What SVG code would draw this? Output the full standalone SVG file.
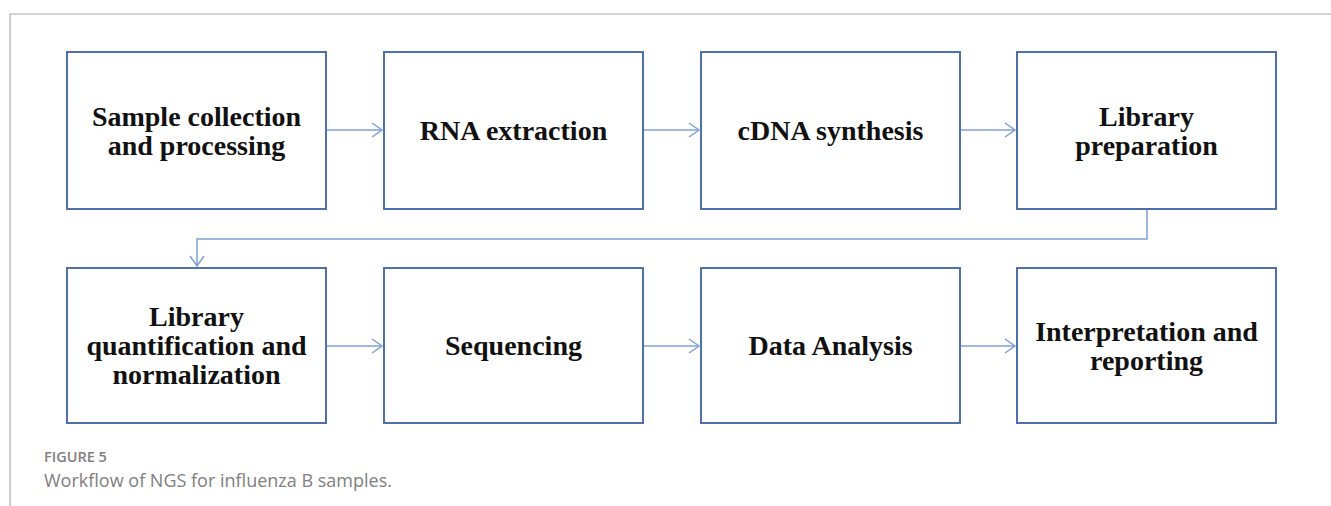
<svg xmlns="http://www.w3.org/2000/svg" width="1331" height="506" viewBox="0 0 1331 506">
<style>
.box{fill:#fff;stroke:#4f70a8;stroke-width:2}
.lbl{font-family:"Liberation Serif",serif;font-weight:bold;font-size:28px;fill:#111;text-anchor:middle}
.con{fill:none;stroke:#7fa0d6;stroke-width:1.5}
.cap1{font-family:"Open Sans",sans-serif;font-weight:600;font-size:14.5px;fill:#808080}
.cap2{font-family:"Open Sans",sans-serif;font-size:18px;fill:#808080}
</style>
<defs>
<marker id="ah" markerWidth="14" markerHeight="16" refX="12" refY="8" orient="auto" markerUnits="userSpaceOnUse">
<path d="M2,1 L12,8 L2,15" fill="none" stroke="#7fa0d6" stroke-width="1.5"/>
</marker>
</defs>
<rect width="1331" height="506" fill="#fff"/>
<path d="M10,506 V14 H1331" fill="none" stroke="#aaa" stroke-width="1.2"/>
<g id="n1"><rect class="box" x="67" y="52" width="259" height="157"/><text class="lbl" x="196.5" y="126">Sample collection</text><text class="lbl" x="196.5" y="155">and processing</text></g>
<g id="n2"><rect class="box" x="384" y="52" width="259" height="157"/><text class="lbl" x="513.5" y="140">RNA extraction</text></g>
<g id="n3"><rect class="box" x="701" y="52" width="259" height="157"/><text class="lbl" x="830.5" y="140">cDNA synthesis</text></g>
<g id="n4"><rect class="box" x="1017" y="52" width="259" height="157"/><text class="lbl" x="1146.5" y="126">Library</text><text class="lbl" x="1146.5" y="155">preparation</text></g>
<g id="n5"><rect class="box" x="67" y="268" width="259" height="155"/><text class="lbl" x="196.5" y="326">Library</text><text class="lbl" x="196.5" y="355">quantification and</text><text class="lbl" x="196.5" y="384">normalization</text></g>
<g id="n6"><rect class="box" x="384" y="268" width="259" height="155"/><text class="lbl" x="513.5" y="355">Sequencing</text></g>
<g id="n7"><rect class="box" x="701" y="268" width="259" height="155"/><text class="lbl" x="830.5" y="355">Data Analysis</text></g>
<g id="n8"><rect class="box" x="1017" y="268" width="259" height="155"/><text class="lbl" x="1146.5" y="341">Interpretation and</text><text class="lbl" x="1146.5" y="370">reporting</text></g>
<g id="connectors">
<line class="con" x1="327" y1="130" x2="382" y2="130" marker-end="url(#ah)"/>
<line class="con" x1="644" y1="130" x2="699" y2="130" marker-end="url(#ah)"/>
<line class="con" x1="961" y1="130" x2="1015" y2="130" marker-end="url(#ah)"/>
<path class="con" d="M1147,210 V239 H197 V266" marker-end="url(#ah)"/>
<line class="con" x1="327" y1="346" x2="382" y2="346" marker-end="url(#ah)"/>
<line class="con" x1="644" y1="346" x2="699" y2="346" marker-end="url(#ah)"/>
<line class="con" x1="961" y1="346" x2="1015" y2="346" marker-end="url(#ah)"/>
</g>
<text class="cap1" x="44" y="462">FIGURE 5</text>
<text class="cap2" x="44" y="487">Workflow of NGS for influenza B samples.</text>
</svg>
